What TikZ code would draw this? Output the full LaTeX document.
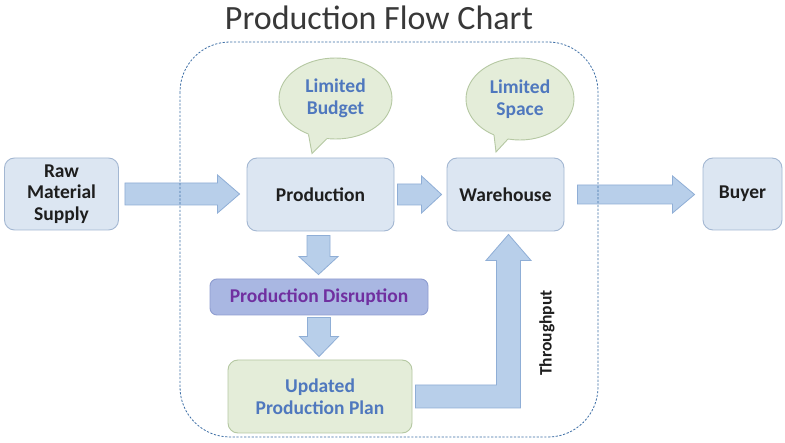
\documentclass[tikz,border=0pt]{standalone}
\usepackage{fontspec}
\setmainfont{Carlito}
\usetikzlibrary{shapes.geometric,calc}
\definecolor{boxfill}{HTML}{DCE6F2}
\definecolor{boxline}{HTML}{A3B7D2}
\definecolor{arrfill}{HTML}{B8CFEA}
\definecolor{arrline}{HTML}{8FAED6}
\definecolor{bubfill}{HTML}{E4EDD9}
\definecolor{bubline}{HTML}{B5C8A2}
\definecolor{bubtext}{HTML}{4F78BE}
\definecolor{disfill}{HTML}{A9B7E2}
\definecolor{disline}{HTML}{8E9DD0}
\definecolor{distext}{HTML}{7030A0}
\definecolor{framecol}{HTML}{3E6FA6}
\definecolor{txt}{HTML}{1E1E1E}
\newcommand\hblk[5]{%
  \filldraw[blk] let \p1=#1, \p2=#2 in
    (\x1,\y1+#3) -- (\x2-#5,\y1+#3) -- (\x2-#5,\y1+#4) -- (\x2,\y1) --
    (\x2-#5,\y1-#4) -- (\x2-#5,\y1-#3) -- (\x1,\y1-#3) -- cycle;}
\newcommand\vblk[5]{%
  \filldraw[blk] let \p1=#1, \p2=#2 in
    (\x1-#3,\y1) -- (\x1-#3,\y2+#5) -- (\x1-#4,\y2+#5) -- (\x1,\y2) --
    (\x1+#4,\y2+#5) -- (\x1+#3,\y2+#5) -- (\x1+#3,\y1) -- cycle;}
\begin{document}
\begin{tikzpicture}[x=1pt,y=-1pt,
  box/.style={draw=boxline, fill=boxfill, line width=0.9pt, rounded corners=10pt,
    align=center, text=txt, font=\fontsize{19.5}{21.5}\selectfont\bfseries, inner sep=0pt},
  blk/.style={draw=arrline, fill=arrfill, line width=0.8pt},
  bubble/.style={ellipse, draw=bubline, fill=bubfill, line width=0.9pt, inner sep=0pt,
    align=center, text=bubtext, font=\fontsize{19.5}{22}\selectfont\bfseries},
  frame/.style={draw=framecol, line width=0.8pt, dash pattern=on 2.2pt off 1.6pt, rounded corners=50pt}
]
\useasboundingbox (0,0) rectangle (785,443);
\fill[white] (0,0) rectangle (785,443);

\node[font=\fontsize{34}{34}\selectfont, text=black!78] (title) at (379,18) {Production Flow Chart};

% main boxes
\node[box, minimum width=114pt, minimum height=72pt] (raw) at (61.5,194) {Raw\\Material\\Supply};
\node[box, minimum width=147pt, minimum height=73pt] (prod) at (320.5,194.5) {Production};
\node[box, minimum width=117pt, minimum height=73pt] (wh) at (505.5,194.5) {Warehouse};
\node[box, minimum width=79pt, minimum height=72pt] (buyer) at (742.5,194) {Buyer};
\node[box, draw=disline, fill=disfill, text=distext, rounded corners=7pt,
  minimum width=218pt, minimum height=36pt] (dis) at (319,297) {Production Disruption};
\node[box, draw=bubline, fill=bubfill, text=bubtext,
  minimum width=184pt, minimum height=73pt] (upd) at (320,396.5) {Updated\\Production Plan};

% bubbles
\node[bubble, minimum width=113pt, minimum height=81pt] (budget) at (335.5,98.5) {Limited\\Budget};
\fill[bubfill] ($(budget.center)+(-27,35.9)$) -- ($(budget.center)+(-23.5,55)$) -- ($(budget.center)+(-9,40.5)$)
  -- ($(budget.center)+(-9,36)$) -- ($(budget.center)+(-27,31)$) -- cycle;
\draw[bubline, line width=0.9pt] ($(budget.center)+(-27,35.9)$) -- ($(budget.center)+(-23.5,55)$) -- ($(budget.center)+(-9,40.5)$);

\node[bubble, minimum width=108pt, minimum height=82pt] (space) at (520,99) {Limited\\Space};
\fill[bubfill] ($(space.center)+(-26,35.9)$) -- ($(space.center)+(-24,53)$) -- ($(space.center)+(-12,40)$)
  -- ($(space.center)+(-12,36)$) -- ($(space.center)+(-26,31)$) -- cycle;
\draw[bubline, line width=0.9pt] ($(space.center)+(-26,35.9)$) -- ($(space.center)+(-24,53)$) -- ($(space.center)+(-12,40)$);

% block arrows
\hblk{($(raw.east)+(6,0)$)}{($(prod.west)+(-7,0)$)}{11pt}{19pt}{22pt}
\hblk{($(prod.east)+(3,0)$)}{($(wh.west)+(-5,0)$)}{10.5pt}{18.5pt}{20pt}
\hblk{($(wh.east)+(13,0)$)}{($(buyer.west)+(-8,0)$)}{9.5pt}{18.5pt}{22pt}
\vblk{($(prod.south)+(-2,4)$)}{($(dis.north)+(0,-4)$)}{11.5pt}{19.5pt}{18pt}
\vblk{($(dis.south)+(0,2)$)}{($(upd.north)+(0,-3)$)}{11.5pt}{19.5pt}{20pt}

% L-shaped throughput arrow
\filldraw[blk] let \p1=($(upd.east)+(3,0)$), \p2=($(wh.south)+(3,3)$) in
  (\x1,\y1+11.5pt) -- (\x2-12pt,\y1+11.5pt) -- (\x2-12pt,\y2-26pt) -- (\x2-22.5pt,\y2-26pt) --
  (\x2,\y2) -- (\x2+22.5pt,\y2-26pt) -- (\x2+12pt,\y2-26pt) -- (\x2+12pt,\y1-11.5pt) --
  (\x1,\y1-11.5pt) -- cycle;
\node[rotate=90, text=txt, font=\fontsize{17.5}{20}\selectfont\bfseries] (thr) at (547,333) {Throughput};

% dashed frame
\draw[frame] (180,42) rectangle (598,437);
\end{tikzpicture}
\end{document}
